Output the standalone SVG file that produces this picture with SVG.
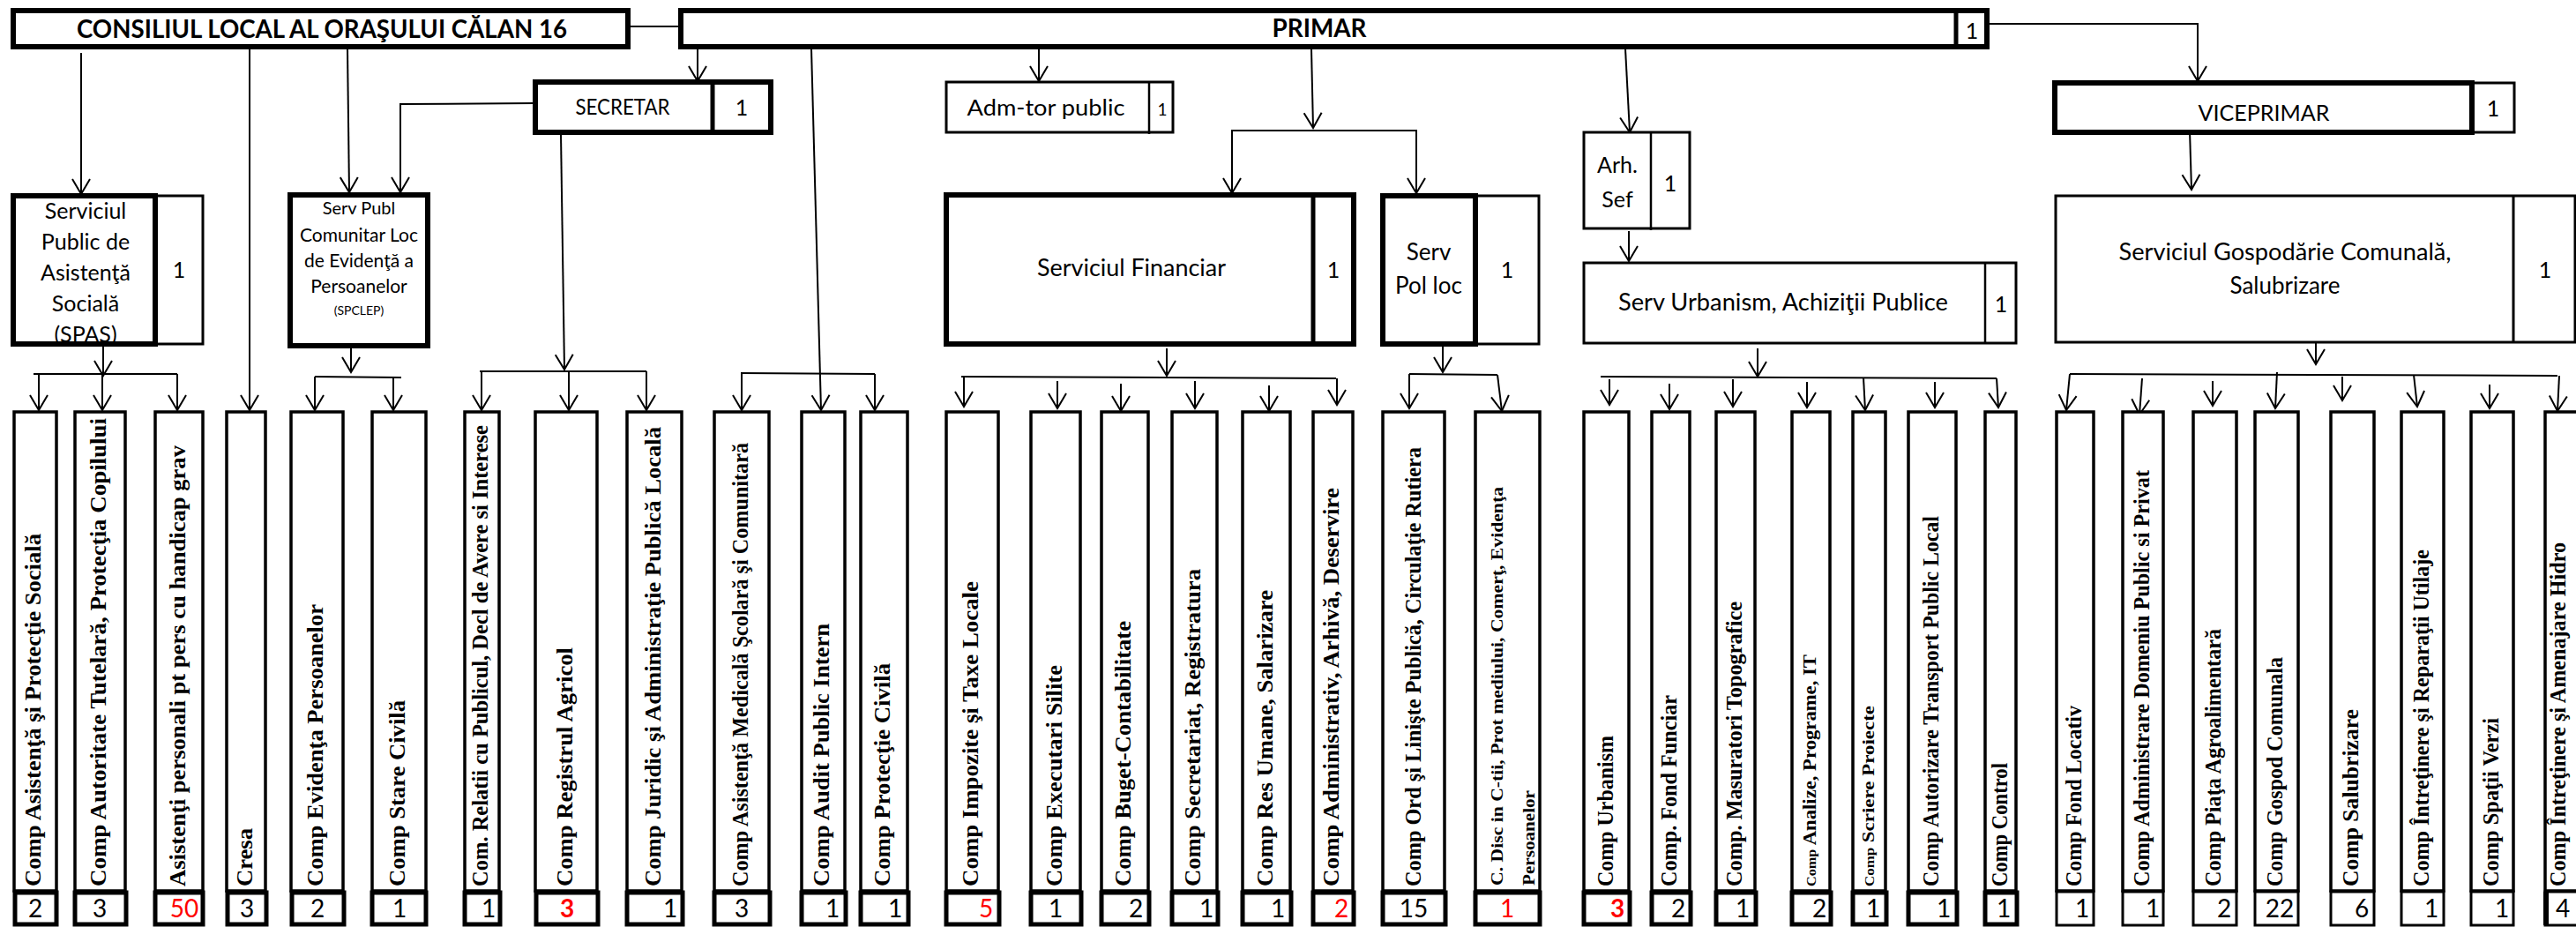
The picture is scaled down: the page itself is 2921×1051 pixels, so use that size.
<svg xmlns="http://www.w3.org/2000/svg" width="2921" height="1051" viewBox="0 0 2921 1051">
<style>
.bg{fill:#fff}
.thick{fill:#fff;stroke:#000;stroke-width:6}
.thin{fill:#fff;stroke:#000;stroke-width:3}
.cb{fill:#fff;stroke:#000;stroke-width:3.5}
.nb{fill:#fff;stroke:#000;stroke-width:5}
.nbt{fill:#fff;stroke:#000;stroke-width:3}
.sans{font-family:Lato,"Open Sans","Liberation Sans",sans-serif;fill:#000}
.hd{font-weight:bold;font-size:28px}
.lb{font-size:25px}
.mid{text-anchor:middle}
.vt{font-family:"Liberation Serif","Times New Roman",serif;font-weight:bold;font-size:26px;fill:#000}
.num{font-family:Lato,"Open Sans","Liberation Sans",sans-serif;font-size:28px;text-anchor:middle;fill:#000}
.red{fill:#ff0000}
.rb{fill:#ff0000;font-weight:bold}
.con path,.con line{fill:none;stroke:#000;stroke-width:2}
</style>
<defs>
<marker id="ah" markerUnits="userSpaceOnUse" viewBox="-18 -12 20 24" markerWidth="20" markerHeight="24" refX="0" refY="0" orient="auto" overflow="visible">
<path d="M-17,-10 L0,0 L-17,10" fill="none" stroke="#000" stroke-width="2"/>
</marker>
</defs>
<rect class="bg" x="0" y="0" width="2921" height="1051"/>

<g id="connectors" class="con">
<line x1="712" y1="30" x2="770" y2="30"/>
<path d="M2253,27 H2492 V92" marker-end="url(#ah)"/>
<line x1="791" y1="56" x2="791" y2="92" marker-end="url(#ah)"/>
<path d="M607,117 L454,118 V218" marker-end="url(#ah)"/>
<line x1="636" y1="152" x2="640" y2="419" marker-end="url(#ah)"/>
<line x1="92" y1="60" x2="92" y2="220" marker-end="url(#ah)"/>
<line x1="283" y1="55" x2="283" y2="465" marker-end="url(#ah)"/>
<line x1="394" y1="55" x2="396" y2="218" marker-end="url(#ah)"/>
<line x1="920" y1="55" x2="931" y2="465" marker-end="url(#ah)"/>
<line x1="1178" y1="55" x2="1178" y2="92" marker-end="url(#ah)"/>
<line x1="1487" y1="55" x2="1489" y2="145" marker-end="url(#ah)"/>
<path d="M1397,219 V148 H1606 V219" marker-end="url(#ah)"/>
<line x1="1397" y1="148" x2="1397" y2="219" marker-end="url(#ah)"/>
<line x1="1843" y1="55" x2="1848" y2="150" marker-end="url(#ah)"/>
<line x1="1847" y1="262" x2="1847" y2="296" marker-end="url(#ah)"/>
<line x1="2483" y1="148" x2="2485" y2="215" marker-end="url(#ah)"/>
<line x1="117" y1="392" x2="117" y2="426" marker-end="url(#ah)"/>
<line x1="38" y1="424" x2="201" y2="424"/>
<line x1="44" y1="424" x2="44" y2="465" marker-end="url(#ah)"/>
<line x1="116" y1="424" x2="116" y2="465" marker-end="url(#ah)"/>
<line x1="201" y1="424" x2="201" y2="465" marker-end="url(#ah)"/>
<line x1="398" y1="393" x2="398" y2="422" marker-end="url(#ah)"/>
<line x1="357" y1="427" x2="455" y2="428"/>
<line x1="357" y1="427" x2="357" y2="465" marker-end="url(#ah)"/>
<line x1="446" y1="428" x2="446" y2="465" marker-end="url(#ah)"/>
<line x1="544" y1="421" x2="733" y2="421"/>
<line x1="546" y1="421" x2="546" y2="465" marker-end="url(#ah)"/>
<line x1="645" y1="421" x2="645" y2="465" marker-end="url(#ah)"/>
<line x1="733" y1="421" x2="733" y2="465" marker-end="url(#ah)"/>
<line x1="840" y1="423" x2="992" y2="424"/>
<line x1="841" y1="423" x2="841" y2="465" marker-end="url(#ah)"/>
<line x1="992" y1="424" x2="992" y2="465" marker-end="url(#ah)"/>
<line x1="1323" y1="395" x2="1323" y2="426" marker-end="url(#ah)"/>
<line x1="1090" y1="427" x2="1515" y2="429"/>
<line x1="1093" y1="427" x2="1093" y2="461" marker-end="url(#ah)"/>
<line x1="1199" y1="432" x2="1199" y2="463" marker-end="url(#ah)"/>
<line x1="1271" y1="435" x2="1271" y2="466" marker-end="url(#ah)"/>
<line x1="1355" y1="432" x2="1355" y2="463" marker-end="url(#ah)"/>
<line x1="1439" y1="437" x2="1439" y2="466" marker-end="url(#ah)"/>
<line x1="1516" y1="429" x2="1516" y2="459" marker-end="url(#ah)"/>
<line x1="1636" y1="392" x2="1636" y2="422" marker-end="url(#ah)"/>
<line x1="1598" y1="424" x2="1698" y2="425"/>
<line x1="1598" y1="424" x2="1598" y2="463" marker-end="url(#ah)"/>
<line x1="1698" y1="425" x2="1703" y2="466" marker-end="url(#ah)"/>
<line x1="1993" y1="395" x2="1993" y2="427" marker-end="url(#ah)"/>
<line x1="1815" y1="427" x2="2264" y2="429"/>
<line x1="1825" y1="430" x2="1825" y2="459" marker-end="url(#ah)"/>
<line x1="1893" y1="435" x2="1893" y2="464" marker-end="url(#ah)"/>
<line x1="1965" y1="430" x2="1965" y2="461" marker-end="url(#ah)"/>
<line x1="2049" y1="433" x2="2049" y2="462" marker-end="url(#ah)"/>
<line x1="2113" y1="428" x2="2115" y2="465" marker-end="url(#ah)"/>
<line x1="2194" y1="433" x2="2194" y2="462" marker-end="url(#ah)"/>
<line x1="2264" y1="429" x2="2266" y2="462" marker-end="url(#ah)"/>
<line x1="2626" y1="388" x2="2626" y2="413" marker-end="url(#ah)"/>
<line x1="2347" y1="424" x2="2900" y2="426"/>
<line x1="2347" y1="424" x2="2343" y2="465" marker-end="url(#ah)"/>
<line x1="2429" y1="429" x2="2426" y2="470" marker-end="url(#ah)"/>
<line x1="2509" y1="432" x2="2509" y2="460" marker-end="url(#ah)"/>
<line x1="2582" y1="422" x2="2580" y2="463" marker-end="url(#ah)"/>
<line x1="2656" y1="427" x2="2656" y2="454" marker-end="url(#ah)"/>
<line x1="2737" y1="425" x2="2741" y2="461" marker-end="url(#ah)"/>
<line x1="2823" y1="436" x2="2823" y2="463" marker-end="url(#ah)"/>
<line x1="2902" y1="426" x2="2900" y2="466" marker-end="url(#ah)"/>
</g>

<g id="consiliul">
<rect class="thick" x="15" y="12" width="697" height="41"/>
<text class="sans hd mid" x="365" y="43" textLength="556" lengthAdjust="spacingAndGlyphs">CONSILIUL LOCAL AL ORAŞULUI CĂLAN 16</text>
</g>
<g id="primar">
<rect class="thick" x="772" y="12" width="1481" height="41"/>
<line x1="2218" y1="12" x2="2218" y2="53" stroke="#000" stroke-width="5"/>
<text class="sans hd mid" x="1496" y="42" textLength="107" lengthAdjust="spacingAndGlyphs">PRIMAR</text>
<text class="sans lb mid" x="2236" y="44">1</text>
</g>
<g id="secretar">
<rect class="thick" x="607" y="93" width="267" height="57"/>
<line x1="808" y1="93" x2="808" y2="150" stroke="#000" stroke-width="5"/>
<text class="sans lb mid" x="706" y="130" textLength="107" lengthAdjust="spacingAndGlyphs">SECRETAR</text>
<text class="sans lb mid" x="841" y="131">1</text>
</g>
<g id="admtor">
<rect class="thin" x="1073" y="93" width="257" height="57"/>
<line x1="1303" y1="93" x2="1303" y2="152" stroke="#000" stroke-width="2.5"/>
<text class="sans lb mid" x="1186" y="131" textLength="179" lengthAdjust="spacingAndGlyphs">Adm-tor public</text>
<text class="sans mid" x="1318" y="131" font-size="19">1</text>
</g>
<g id="spas">
<rect class="thin" x="176" y="222" width="54" height="168"/>
<rect class="thick" x="15" y="222" width="161" height="168"/>
<text class="sans lb mid" x="97" y="248">Serviciul</text>
<text class="sans lb mid" x="97" y="283">Public de</text>
<text class="sans lb mid" x="97" y="318">Asistenţă</text>
<text class="sans lb mid" x="97" y="353">Socială</text>
<text class="sans lb mid" x="97" y="388">(SPAS)</text>
<text class="sans lb mid" x="203" y="315">1</text>
</g>
<g id="spclep">
<rect class="thick" x="329" y="221" width="156" height="171"/>
<text class="sans mid" x="407" y="243" font-size="20">Serv Publ</text>
<text class="sans mid" x="407" y="274" font-size="21">Comunitar Loc</text>
<text class="sans mid" x="407" y="303" font-size="21">de Evidenţă a</text>
<text class="sans mid" x="407" y="332" font-size="21">Persoanelor</text>
<text class="sans mid" x="407" y="357" font-size="14">(SPCLEP)</text>
</g>
<g id="financiar">
<rect class="thick" x="1073" y="221" width="462" height="169"/>
<line x1="1489" y1="221" x2="1489" y2="390" stroke="#000" stroke-width="5"/>
<text class="sans mid" x="1283" y="313" font-size="26" textLength="214" lengthAdjust="spacingAndGlyphs">Serviciul Financiar</text>
<text class="sans lb mid" x="1512" y="315">1</text>
</g>
<g id="pol-loc">
<rect class="thin" x="1673" y="222" width="72" height="168"/>
<rect class="thick" x="1568" y="222" width="105" height="168"/>
<text class="sans mid" x="1620" y="295" font-size="26">Serv</text>
<text class="sans mid" x="1620" y="333" font-size="26">Pol loc</text>
<text class="sans lb mid" x="1709" y="315">1</text>
</g>
<g id="arh-sef">
<rect class="thin" x="1796" y="150" width="120" height="109"/>
<line x1="1872" y1="150" x2="1872" y2="261" stroke="#000" stroke-width="2.5"/>
<text class="sans lb mid" x="1834" y="196">Arh.</text>
<text class="sans lb mid" x="1834" y="235">Sef</text>
<text class="sans lb mid" x="1894" y="217">1</text>
</g>
<g id="serv-urbanism">
<rect class="thin" x="1796" y="298" width="490" height="91"/>
<line x1="2251" y1="298" x2="2251" y2="389" stroke="#000" stroke-width="2.5"/>
<text class="sans mid" x="2022" y="352" font-size="26" textLength="374" lengthAdjust="spacingAndGlyphs">Serv Urbanism, Achiziţii Publice</text>
<text class="sans lb mid" x="2269" y="354">1</text>
</g>
<g id="viceprimar">
<rect class="thin" x="2803" y="94" width="48" height="56"/>
<rect class="thick" x="2330" y="94" width="473" height="56"/>
<text class="sans lb mid" x="2567" y="137" textLength="149" lengthAdjust="spacingAndGlyphs">VICEPRIMAR</text>
<text class="sans lb mid" x="2827" y="132">1</text>
</g>
<g id="gospodarie">
<rect class="thin" x="2331" y="222" width="589" height="166"/>
<line x1="2850" y1="222" x2="2850" y2="388" stroke="#000" stroke-width="3"/>
<text class="sans mid" x="2591" y="295" font-size="26" textLength="377" lengthAdjust="spacingAndGlyphs">Serviciul Gospodărie Comunală,</text>
<text class="sans mid" x="2591" y="333" font-size="26">Salubrizare</text>
<text class="sans lb mid" x="2886" y="315">1</text>
</g>

<g id="c1"><rect class="cb" x="16" y="467" width="48" height="543"/><rect class="nb" x="17" y="1012" width="47" height="36"/><text class="vt" transform="translate(46,1005) rotate(-90)" textLength="400" lengthAdjust="spacingAndGlyphs">Comp Asistenţă şi Protecţie Socială</text><text class="num" x="40" y="1040">2</text></g>
<g id="c2"><rect class="cb" x="85" y="467" width="57" height="543"/><rect class="nb" x="85" y="1012" width="58" height="36"/><text class="vt" transform="translate(120,1005) rotate(-90)" textLength="531" lengthAdjust="spacingAndGlyphs">Comp Autoritate Tutelară, Protecţia Copilului</text><text class="num" x="113" y="1040">3</text></g>
<g id="c3"><rect class="cb" x="176" y="467" width="54" height="543"/><rect class="nb" x="176" y="1012" width="54" height="36"/><text class="vt" transform="translate(210,1005) rotate(-90)" textLength="500" lengthAdjust="spacingAndGlyphs">Asistenţi personali pt pers cu handicap grav</text><text class="num red" x="209" y="1040">50</text></g>
<g id="c4"><rect class="cb" x="257" y="467" width="44" height="543"/><rect class="nb" x="258" y="1012" width="44" height="36"/><text class="vt" transform="translate(286,1005) rotate(-90)" textLength="66" lengthAdjust="spacingAndGlyphs">Cresa</text><text class="num" x="280" y="1040">3</text></g>
<g id="c5"><rect class="cb" x="330" y="467" width="59" height="543"/><rect class="nb" x="331" y="1012" width="59" height="36"/><text class="vt" transform="translate(366,1005) rotate(-90)" textLength="320" lengthAdjust="spacingAndGlyphs">Comp Evidenţa Persoanelor</text><text class="num" x="360" y="1040">2</text></g>
<g id="c6"><rect class="cb" x="422" y="467" width="61" height="543"/><rect class="nb" x="422" y="1012" width="61" height="36"/><text class="vt" transform="translate(459,1005) rotate(-90)" textLength="211" lengthAdjust="spacingAndGlyphs">Comp Stare Civilă</text><text class="num" x="453" y="1040">1</text></g>
<g id="c7"><rect class="cb" x="527" y="467" width="39" height="543"/><rect class="nb" x="527" y="1012" width="40" height="36"/><text class="vt" transform="translate(553,1005) rotate(-90)" textLength="523" lengthAdjust="spacingAndGlyphs">Com.  Relatii cu Publicul, Decl de Avere si Interese</text><text class="num" x="554" y="1040">1</text></g>
<g id="c8"><rect class="cb" x="607" y="467" width="70" height="543"/><rect class="nb" x="608" y="1012" width="70" height="36"/><text class="vt" transform="translate(649,1005) rotate(-90)" textLength="271" lengthAdjust="spacingAndGlyphs">Comp Registrul Agricol</text><text class="num rb" x="643" y="1040">3</text></g>
<g id="c9"><rect class="cb" x="711" y="467" width="62" height="543"/><rect class="nb" x="711" y="1012" width="63" height="36"/><text class="vt" transform="translate(749,1005) rotate(-90)" textLength="521" lengthAdjust="spacingAndGlyphs">Comp Juridic şi Administraţie Publică Locală</text><text class="num" x="760" y="1040">1</text></g>
<g id="c10"><rect class="cb" x="810" y="467" width="62" height="543"/><rect class="nb" x="810" y="1012" width="63" height="36"/><text class="vt" transform="translate(848,1005) rotate(-90)" textLength="503" lengthAdjust="spacingAndGlyphs">Comp Asistenţă Medicală Şcolară şi Comunitară</text><text class="num" x="841" y="1040">3</text></g>
<g id="c11"><rect class="cb" x="909" y="467" width="49" height="543"/><rect class="nb" x="909" y="1012" width="50" height="36"/><text class="vt" transform="translate(940,1005) rotate(-90)" textLength="298" lengthAdjust="spacingAndGlyphs">Comp Audit Public Intern</text><text class="num" x="944" y="1040">1</text></g>
<g id="c12"><rect class="cb" x="976" y="467" width="53" height="543"/><rect class="nb" x="976" y="1012" width="54" height="36"/><text class="vt" transform="translate(1009,1005) rotate(-90)" textLength="253" lengthAdjust="spacingAndGlyphs">Comp Protecţie Civilă</text><text class="num" x="1015" y="1040">1</text></g>
<g id="c13"><rect class="cb" x="1073" y="467" width="59" height="543"/><rect class="nb" x="1073" y="1012" width="60" height="36"/><text class="vt" transform="translate(1109,1005) rotate(-90)" textLength="346" lengthAdjust="spacingAndGlyphs">Comp Impozite şi Taxe Locale</text><text class="num red" x="1118" y="1040">5</text></g>
<g id="c14"><rect class="cb" x="1169" y="467" width="56" height="543"/><rect class="nb" x="1169" y="1012" width="57" height="36"/><text class="vt" transform="translate(1204,1005) rotate(-90)" textLength="251" lengthAdjust="spacingAndGlyphs">Comp Executari Silite</text><text class="num" x="1197" y="1040">1</text></g>
<g id="c15"><rect class="cb" x="1249" y="467" width="53" height="543"/><rect class="nb" x="1249" y="1012" width="54" height="36"/><text class="vt" transform="translate(1282,1005) rotate(-90)" textLength="301" lengthAdjust="spacingAndGlyphs">Comp Buget-Contabilitate</text><text class="num" x="1288" y="1040">2</text></g>
<g id="c16"><rect class="cb" x="1329" y="467" width="51" height="543"/><rect class="nb" x="1329" y="1012" width="52" height="36"/><text class="vt" transform="translate(1361,1005) rotate(-90)" textLength="360" lengthAdjust="spacingAndGlyphs">Comp Secretariat, Registratura</text><text class="num" x="1368" y="1040">1</text></g>
<g id="c17"><rect class="cb" x="1409" y="467" width="54" height="543"/><rect class="nb" x="1409" y="1012" width="55" height="36"/><text class="vt" transform="translate(1443,1005) rotate(-90)" textLength="336" lengthAdjust="spacingAndGlyphs">Comp Res Umane, Salarizare</text><text class="num" x="1449" y="1040">1</text></g>
<g id="c18"><rect class="cb" x="1489" y="467" width="45" height="543"/><rect class="nb" x="1489" y="1012" width="46" height="36"/><text class="vt" transform="translate(1518,1005) rotate(-90)" textLength="452" lengthAdjust="spacingAndGlyphs">Comp Administrativ, Arhivă, Deservire</text><text class="num red" x="1521" y="1040">2</text></g>
<g id="c19"><rect class="cb" x="1568" y="467" width="70" height="543"/><rect class="nb" x="1568" y="1012" width="71" height="36"/><text class="vt" transform="translate(1611,1005) rotate(-90)" textLength="498" lengthAdjust="spacingAndGlyphs">Comp Ord şi Linişte Publică,  Circulaţie Rutiera</text><text class="num" x="1603" y="1040">15</text></g>
<g id="c20"><rect class="cb" x="1673" y="467" width="73" height="543"/><rect class="nb" x="1673" y="1012" width="73" height="36"/><text class="vt" transform="translate(1704,1004) rotate(-90)" style="font-size:19px" textLength="452" lengthAdjust="spacingAndGlyphs">C.  Disc in C-tii, Prot mediului, Comerţ, Evidenţa</text><text class="vt" transform="translate(1740,1004) rotate(-90)" style="font-size:19px" textLength="108" lengthAdjust="spacingAndGlyphs">Persoanelor</text><text class="num red" x="1709" y="1040">1</text></g>
<g id="c21"><rect class="cb" x="1796" y="467" width="51" height="543"/><rect class="nb" x="1796" y="1012" width="52" height="36"/><text class="vt" transform="translate(1829,1005) rotate(-90)" textLength="171" lengthAdjust="spacingAndGlyphs">Comp Urbanism</text><text class="num rb" x="1834" y="1040">3</text></g>
<g id="c22"><rect class="cb" x="1873" y="467" width="43" height="543"/><rect class="nb" x="1873" y="1012" width="44" height="36"/><text class="vt" transform="translate(1901,1005) rotate(-90)" textLength="217" lengthAdjust="spacingAndGlyphs">Comp. Fond Funciar</text><text class="num" x="1903" y="1040">2</text></g>
<g id="c23"><rect class="cb" x="1946" y="467" width="44" height="543"/><rect class="nb" x="1946" y="1012" width="45" height="36"/><text class="vt" transform="translate(1975,1005) rotate(-90)" textLength="323" lengthAdjust="spacingAndGlyphs">Comp. Masuratori Topografice</text><text class="num" x="1976" y="1040">1</text></g>
<g id="c24"><rect class="cb" x="2032" y="467" width="43" height="543"/><rect class="nb" x="2032" y="1012" width="44" height="36"/><text class="vt" transform="translate(2059,1005) rotate(-90)" style="font-size:21px" textLength="263" lengthAdjust="spacingAndGlyphs"><tspan style="font-size:15px">Comp</tspan>  Analize, Programe, IT</text><text class="num" x="2063" y="1040">2</text></g>
<g id="c25"><rect class="cb" x="2101" y="467" width="37" height="543"/><rect class="nb" x="2101" y="1012" width="38" height="36"/><text class="vt" transform="translate(2125,1005) rotate(-90)" style="font-size:19px" textLength="205" lengthAdjust="spacingAndGlyphs"><tspan style="font-size:14px">Comp</tspan>  Scriere Proiecte</text><text class="num" x="2124" y="1040">1</text></g>
<g id="c26"><rect class="cb" x="2164" y="467" width="54" height="543"/><rect class="nb" x="2164" y="1012" width="55" height="36"/><text class="vt" transform="translate(2198,1005) rotate(-90)" textLength="420" lengthAdjust="spacingAndGlyphs">Comp Autorizare Transport Public Local</text><text class="num" x="2204" y="1040">1</text></g>
<g id="c27"><rect class="cb" x="2251" y="467" width="35" height="543"/><rect class="nb" x="2251" y="1012" width="36" height="36"/><text class="vt" transform="translate(2276,1005) rotate(-90)" textLength="140" lengthAdjust="spacingAndGlyphs">Comp Control</text><text class="num" x="2272" y="1040">1</text></g>
<g id="c28"><rect class="cb" x="2332" y="467" width="42" height="543"/><rect class="nbt" x="2332" y="1011" width="42" height="38"/><text class="vt" transform="translate(2360,1005) rotate(-90)" textLength="205" lengthAdjust="spacingAndGlyphs">Comp Fond Locativ</text><text class="num" x="2361" y="1040">1</text></g>
<g id="c29"><rect class="cb" x="2407" y="467" width="46" height="543"/><rect class="nbt" x="2407" y="1011" width="46" height="38"/><text class="vt" transform="translate(2437,1005) rotate(-90)" textLength="472" lengthAdjust="spacingAndGlyphs">Comp Administrare Domeniu Public si Privat</text><text class="num" x="2441" y="1040">1</text></g>
<g id="c30"><rect class="cb" x="2487" y="467" width="49" height="543"/><rect class="nbt" x="2487" y="1011" width="49" height="38"/><text class="vt" transform="translate(2518,1005) rotate(-90)" textLength="292" lengthAdjust="spacingAndGlyphs">Comp Piaţa  Agroalimentară</text><text class="num" x="2522" y="1040">2</text></g>
<g id="c31"><rect class="cb" x="2557" y="467" width="49" height="543"/><rect class="nbt" x="2557" y="1011" width="49" height="38"/><text class="vt" transform="translate(2588,1005) rotate(-90)" textLength="260" lengthAdjust="spacingAndGlyphs">Comp Gospod Comunala</text><text class="num" x="2585" y="1040">22</text></g>
<g id="c32"><rect class="cb" x="2643" y="467" width="49" height="543"/><rect class="nbt" x="2643" y="1011" width="49" height="38"/><text class="vt" transform="translate(2674,1005) rotate(-90)" textLength="201" lengthAdjust="spacingAndGlyphs">Comp   Salubrizare</text><text class="num" x="2678" y="1040">6</text></g>
<g id="c33"><rect class="cb" x="2723" y="467" width="48" height="543"/><rect class="nbt" x="2723" y="1011" width="48" height="38"/><text class="vt" transform="translate(2754,1005) rotate(-90)" textLength="382" lengthAdjust="spacingAndGlyphs">Comp Întreţinere şi Reparaţii Utilaje</text><text class="num" x="2757" y="1040">1</text></g>
<g id="c34"><rect class="cb" x="2802" y="467" width="48" height="543"/><rect class="nbt" x="2802" y="1011" width="48" height="38"/><text class="vt" transform="translate(2833,1005) rotate(-90)" textLength="191" lengthAdjust="spacingAndGlyphs">Comp Spaţii Verzi</text><text class="num" x="2837" y="1040">1</text></g>
<g id="c35"><rect class="cb" x="2886" y="467" width="45" height="543"/><rect class="nbt" x="2886" y="1011" width="45" height="38"/><line x1="2887" y1="1011" x2="2887" y2="1049" stroke="#000" stroke-width="6"/><text class="vt" transform="translate(2909,1005) rotate(-90)" textLength="390" lengthAdjust="spacingAndGlyphs">Comp Întreţinere şi Amenajare Hidro</text><text class="num" x="2906" y="1040">4</text></g>
</svg>
